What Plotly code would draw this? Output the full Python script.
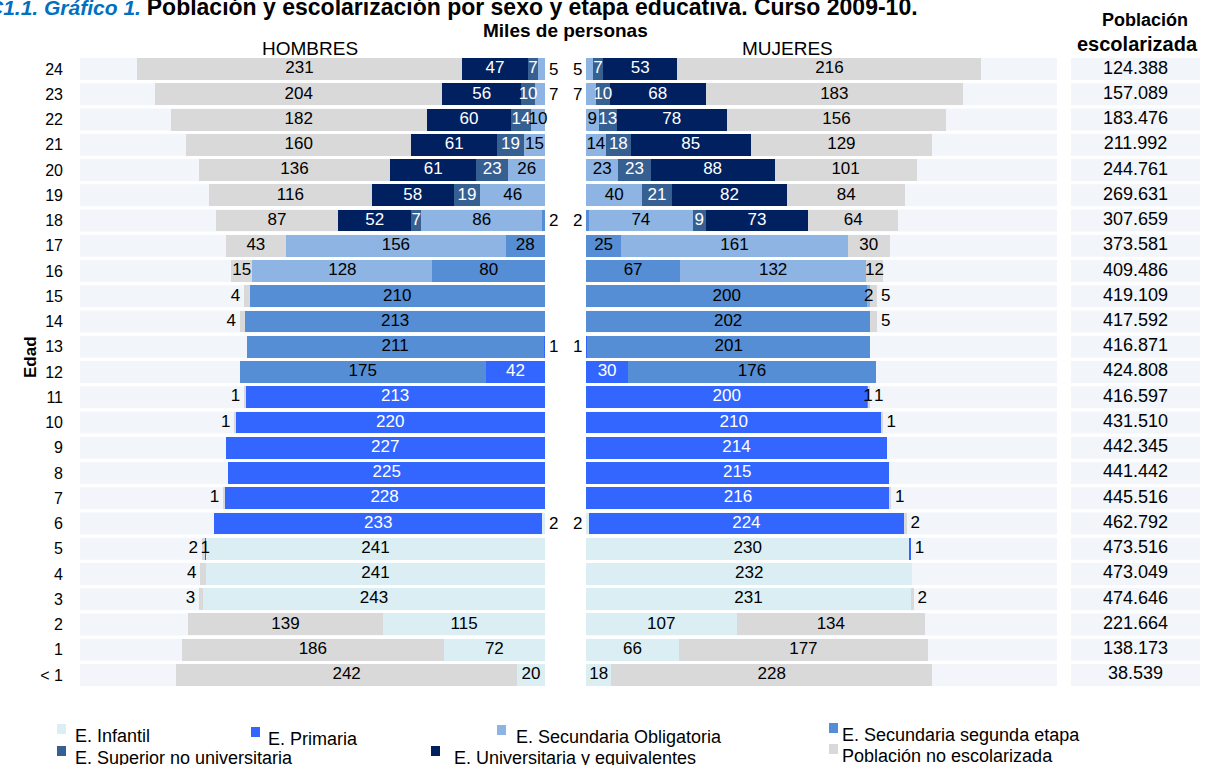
import plotly.graph_objects as go

W, H = 1205, 765
FONT = "Liberation Sans, Arial, sans-serif"

categories = ["< 1", "1", "2", "3", "4", "5", "6", "7", "8", "9", "10", "11", "12",
              "13", "14", "15", "16", "17", "18", "19", "20", "21", "22", "23", "24"]

# HOMBRES (miles de personas), index 0 = "< 1"
h_infantil = [20, 72, 115, 243, 241, 241, 2, 0, 0, 0, 0, 0, 0, 0, 0, 0, 0, 0, 0, 0, 0, 0, 0, 0, 0]
h_primaria = [0, 0, 0, 0, 0, 1, 233, 228, 225, 227, 220, 213, 42, 1, 0, 0, 0, 0, 0, 0, 0, 0, 0, 0, 0]
h_sec_segunda = [0, 0, 0, 0, 0, 0, 0, 0, 0, 0, 0, 0, 175, 211, 213, 210, 80, 28, 2, 0, 0, 0, 0, 0, 0]
h_sec_oblig = [0, 0, 0, 0, 0, 0, 0, 0, 0, 0, 0, 0, 0, 0, 0, 0, 128, 156, 86, 46, 26, 15, 10, 7, 5]
h_superior = [0, 0, 0, 0, 0, 0, 0, 0, 0, 0, 0, 0, 0, 0, 0, 0, 0, 0, 7, 19, 23, 19, 14, 10, 7]
h_univ = [0, 0, 0, 0, 0, 0, 0, 0, 0, 0, 0, 0, 0, 0, 0, 0, 0, 0, 52, 58, 61, 61, 60, 56, 47]
h_noesc = [242, 186, 139, 3, 4, 2, 0, 1, 0, 0, 1, 1, 0, 0, 4, 4, 15, 43, 87, 116, 136, 160, 182, 204, 231]

# MUJERES (miles de personas)
m_infantil = [18, 66, 107, 231, 232, 230, 2, 0, 0, 0, 0, 0, 0, 0, 0, 0, 0, 0, 0, 0, 0, 0, 0, 0, 0]
m_primaria = [0, 0, 0, 0, 0, 1, 224, 216, 215, 214, 210, 200, 30, 1, 0, 0, 0, 0, 0, 0, 0, 0, 0, 0, 0]
m_sec_segunda = [0, 0, 0, 0, 0, 0, 0, 0, 0, 0, 0, 1, 176, 201, 202, 200, 67, 25, 2, 0, 0, 0, 0, 0, 0]
m_sec_oblig = [0, 0, 0, 0, 0, 0, 0, 0, 0, 0, 0, 0, 0, 0, 0, 2, 132, 161, 74, 40, 23, 14, 9, 7, 5]
m_superior = [0, 0, 0, 0, 0, 0, 0, 0, 0, 0, 0, 0, 0, 0, 0, 0, 0, 0, 9, 21, 23, 18, 13, 10, 7]
m_univ = [0, 0, 0, 0, 0, 0, 0, 0, 0, 0, 0, 0, 0, 0, 0, 0, 0, 0, 73, 82, 88, 85, 78, 68, 53]
m_noesc = [228, 177, 134, 2, 0, 0, 2, 1, 0, 0, 1, 1, 0, 0, 5, 5, 12, 30, 64, 84, 101, 129, 156, 183, 216]

escolarizada = ["38.539", "138.173", "221.664", "474.646", "473.049", "473.516", "462.792",
                "445.516", "441.442", "442.345", "431.510", "416.597", "424.808", "416.871",
                "417.592", "419.109", "409.486", "373.581", "307.659", "269.631", "244.761",
                "211.992", "183.476", "157.089", "124.388"]

# series in stacking order from the centre outwards
series = [
    ("E. Infantil", "#DAEEF3", "black", h_infantil, m_infantil),
    ("E. Primaria", "#3366FF", "white", h_primaria, m_primaria),
    ("E. Secundaria segunda etapa", "#558ED5", "black", h_sec_segunda, m_sec_segunda),
    ("E. Secundaria Obligatoria", "#8DB4E2", "black", h_sec_oblig, m_sec_oblig),
    ("E. Superior no universitaria", "#376092", "white", h_superior, m_superior),
    ("E. Universitaria y equivalentes", "#002060", "white", h_univ, m_univ),
    ("Población no escolarizada", "#D9D9D9", "black", h_noesc, m_noesc),
]

PXU = 1.407  # pixels per thousand
L0, L1 = 80, 545
R0, R1 = 586, 1057
T0, T1 = 1071, 1200
YTOP, YBOT = 56.4, 687.6
BARW = 0.87
LBL = 17

def px(x):
    return x / W

def py(y):
    return 1 - y / H

ypos = list(range(len(categories)))
fig = go.Figure()
annotations = []

for side, xa in ((0, "x"), (1, "x2")):
    for name, color, tcol, hv, mv in series:
        vals = hv if side == 0 else mv
        fig.add_trace(go.Bar(
            y=ypos, x=vals, orientation="h", name=name, xaxis=xa, yaxis="y",
            marker=dict(color=color, line=dict(width=0)), width=BARW,
            showlegend=False, hoverinfo="skip"))

    # value labels
    gap_x = px(L1 + 6 * PXU) if side == 0 else px(R0 - 6 * PXU)
    lx, ly, lt, lc = [], [], [], []
    for i in ypos:
        vals = [(s[3] if side == 0 else s[4])[i] for s in series]
        nz = [k for k, v in enumerate(vals) if v > 0]
        if not nz:
            continue
        first, last = nz[0], nz[-1]
        cum = 0
        for k, v in enumerate(vals):
            if v == 0:
                continue
            start, end = cum, cum + v
            cum = end
            if k == first and v < 9:
                # small central segment: label in the gap between the panels
                annotations.append(dict(text=str(v), x=gap_x, y=i, xref="paper", yref="y",
                                        showarrow=False, xanchor="center", yanchor="middle",
                                        font=dict(size=LBL, color="black", family=FONT)))
                continue
            if k == last and v <= 5 and k != first:
                x, c = end + 6, "black"
            elif v <= 2:
                x, c = (start + end) / 2, "black"
            else:
                x, c = (start + end) / 2, series[k][2]
            lx.append(x); ly.append(i); lt.append(str(v)); lc.append(c)
    fig.add_trace(go.Scatter(
        x=lx, y=ly, text=lt, mode="text", xaxis=xa, yaxis="y",
        textposition="middle center", cliponaxis=False,
        textfont=dict(family=FONT, size=LBL, color=lc),
        showlegend=False, hoverinfo="skip"))

fig.add_trace(go.Scatter(
    x=[0.5] * len(ypos), y=ypos, text=escolarizada, mode="text", xaxis="x3", yaxis="y",
    textposition="middle center", cliponaxis=False,
    textfont=dict(family=FONT, size=18, color="black"),
    showlegend=False, hoverinfo="skip"))

shapes = []
for i in ypos:
    for xr in ("x domain", "x2 domain", "x3 domain"):
        shapes.append(dict(type="rect", xref=xr, yref="y", x0=0, x1=1,
                           y0=i - BARW / 2, y1=i + BARW / 2,
                           fillcolor="#F2F5FA", line=dict(width=0), layer="below"))

texts = [
    dict(text='<b><i><span style="color:#0070C0">C1.1. Gráfico 1.</span></i> '
              '<span style="font-size:23px">Población y escolarización por sexo y etapa educativa. '
              'Curso 2009-10.</span></b>',
         x=px(-14), y=py(-8), xanchor="left", yanchor="top",
         font=dict(size=21, color="black", family=FONT)),
    dict(text="<b>Miles de personas</b>", x=px(565), y=py(31),
         font=dict(size=19, color="black", family=FONT)),
    dict(text="HOMBRES", x=px(310), y=py(48), font=dict(size=19, color="black", family=FONT)),
    dict(text="MUJERES", x=px(787), y=py(49), font=dict(size=19, color="black", family=FONT)),
    dict(text="<b>Población</b>", x=px(1145), y=py(20), font=dict(size=18, color="black", family=FONT)),
    dict(text="<b>escolarizada</b>", x=px(1137), y=py(44), font=dict(size=20, color="black", family=FONT)),
    dict(text="<b>Edad</b>", x=px(30), y=py(357), textangle=-90,
         font=dict(size=17, color="black", family=FONT)),
]
for a in texts:
    a.setdefault("xref", "paper")
    a.setdefault("yref", "paper")
    a.setdefault("showarrow", False)
    a.setdefault("xanchor", "center")
    a.setdefault("yanchor", "middle")
annotations.extend(texts)

# legend: (name, colour, icon x, text x, text centre y) in pixels
legend_items = [
    ("E. Infantil", "#DAEEF3", 57, 73, 736),
    ("E. Primaria", "#3366FF", 251, 266, 739),
    ("E. Secundaria Obligatoria", "#8DB4E2", 497, 514, 737),
    ("E. Secundaria segunda etapa", "#558ED5", 829, 840, 735),
    ("E. Superior no universitaria", "#376092", 57, 73, 758),
    ("E. Universitaria y equivalentes", "#002060", 431, 452, 758),
    ("Población no escolarizada", "#D9D9D9", 829, 840, 756),
]
for name, color, ix, tx, yc in legend_items:
    shapes.append(dict(type="rect", xref="paper", yref="paper",
                       x0=px(ix), x1=px(ix + 9), y0=py(yc - 2), y1=py(yc - 12),
                       fillcolor=color, line=dict(width=0)))
    annotations.append(dict(text=name, x=px(tx), y=py(yc), xref="paper", yref="paper",
                            xanchor="left", yanchor="middle", showarrow=False,
                            font=dict(size=18, color="black", family=FONT)))

fig.update_layout(
    width=W, height=H, margin=dict(l=0, r=0, t=0, b=0),
    paper_bgcolor="white", plot_bgcolor="white",
    barmode="stack", showlegend=False,
    font=dict(family=FONT, color="black"),
    xaxis=dict(domain=[px(L0), px(L1)], range=[(L1 - L0) / PXU, 0], visible=False, fixedrange=True),
    xaxis2=dict(domain=[px(R0), px(R1)], range=[0, (R1 - R0) / PXU], visible=False, fixedrange=True),
    xaxis3=dict(domain=[px(T0), px(T1)], range=[0, 1], visible=False, fixedrange=True),
    yaxis=dict(domain=[py(YBOT), py(YTOP)], range=[-0.5, len(categories) - 0.5],
               tickvals=ypos, ticktext=categories, showgrid=False, zeroline=False,
               showline=False, ticks="", ticklabelstandoff=16,
               tickfont=dict(size=16, color="black", family=FONT), fixedrange=True),
    shapes=shapes, annotations=annotations,
)

fig.write_html("out.html", config={"displayModeBar": False},
               post_script="document.body.style.margin='0';")
